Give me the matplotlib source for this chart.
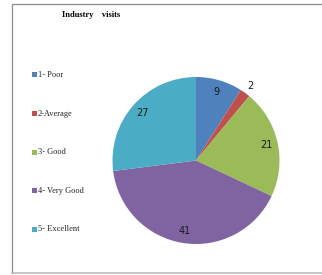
import matplotlib.pyplot as plt
from matplotlib.patches import Rectangle
from matplotlib.lines import Line2D

categories = ['1- Poor', '2-Average', '3- Good', '4- Very Good', '5- Excellent']
values = [9, 2, 21, 41, 27]
colors = ['#4F81BD', '#C0504D', '#9BBB59', '#8064A2', '#4BACC6']
title = 'Industry    visits'

W, H = 322, 275
fig = plt.figure(figsize=(W / 100, H / 100), dpi=100)

# chart frame: left, top and bottom edges only
x0, yt, yb = 12.5 / W, 1 - 4 / H, 1 - 273 / H
fig.add_artist(Line2D([1, x0, x0], [yt, yt, yb], transform=fig.transFigure,
                      color='#8c8c8c', linewidth=0.9))
fig.add_artist(Line2D([x0, 1], [yb, yb], transform=fig.transFigure,
                      color='#bdbdbd', linewidth=1.2))

# pie axes: centre (196,160.5) px, radius 83.5 px
cx, cy, r = 196, 160.5, 83.5
ax = fig.add_axes([(cx - r) / W, (H - cy - r) / H, 2 * r / W, 2 * r / H])
total = sum(values)
wedges, _, autotexts = ax.pie(values, colors=colors, startangle=90, counterclock=False,
                              autopct=lambda p: '%d' % round(p * total / 100),
                              pctdistance=0.86, labeldistance=None,
                              wedgeprops=dict(linewidth=0),
                              textprops=dict(fontsize=7, color='#1a1a1a',
                                             family='DejaVu Sans'))
ax.set_xlim(-1, 1)
ax.set_ylim(-1, 1)
ax.set_aspect('auto')

# small slice label sits just outside
x, y = autotexts[1].get_position()
autotexts[1].set_position((x / 0.86 * 1.1, y / 0.86 * 1.1))

fig.text(62 / W, 1 - 15 / H, title, fontsize=6, fontweight='bold',
         family='Liberation Serif', va='center', ha='left')

# legend
for i, (lab, c) in enumerate(zip(categories, colors)):
    yc = 75 + i * 38.6
    fig.add_artist(Rectangle((32 / W, 1 - (yc + 2.5) / H), 5 / W, 5 / H,
                             transform=fig.transFigure, facecolor=c, edgecolor='none'))
    fig.text(38 / W, 1 - yc / H, lab, fontsize=6, family='Liberation Serif',
             va='center', ha='left', color='#222222')

fig.savefig('out.png', dpi=100)
